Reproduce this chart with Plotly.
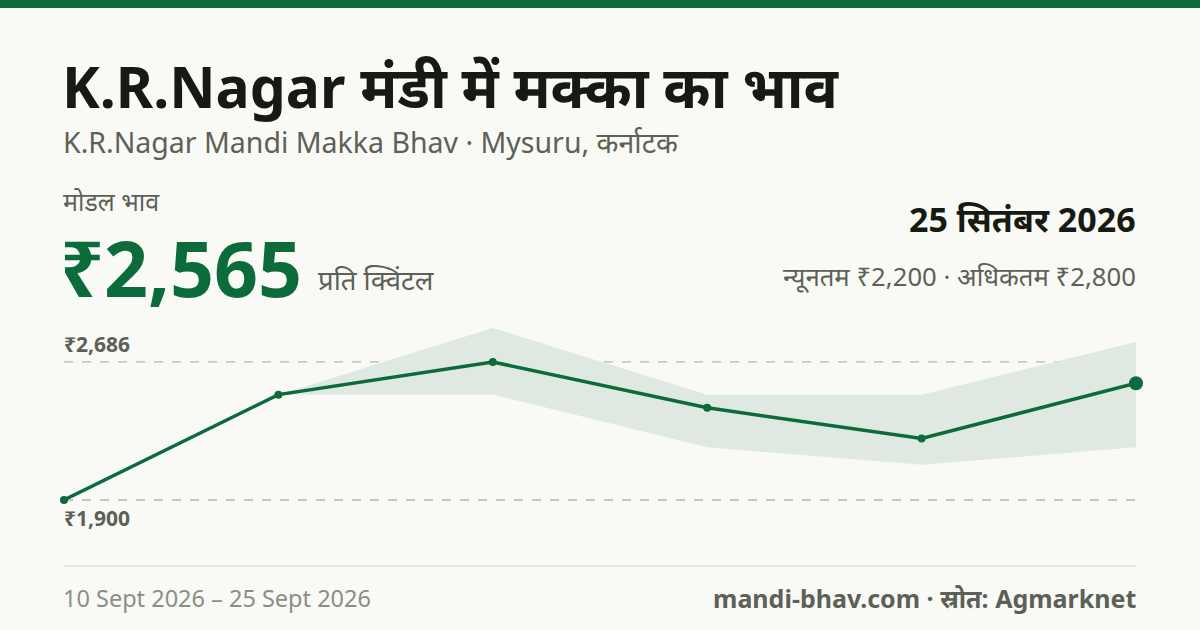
import plotly.graph_objects as go

# --- data ---
dates = ["2026-09-10", "2026-09-13", "2026-09-16", "2026-09-19", "2026-09-22", "2026-09-25"]
modal_price = [1900, 2500, 2686, 2425, 2250, 2565]
min_price = [1900, 2500, 2500, 2200, 2100, 2200]
max_price = [1900, 2500, 2880, 2500, 2500, 2800]

title = "K.R.Nagar मंडी में मक्का का भाव"
subtitle = "K.R.Nagar Mandi Makka Bhav · Mysuru, कर्नाटक"
latest_label = "25 सितंबर 2026"
range_label = "न्यूनतम ₹2,200 · अधिकतम ₹2,800"
period_label = "10 Sept 2026 – 25 Sept 2026"
source_label = "mandi-bhav.com · स्रोत: Agmarknet"

GREEN = "#0b6b3a"
BAND = "#dfe9e1"
BG = "#f9faf6"
DARK = "#151a12"
GREY = "#5c6157"
LIGHT = "#8b8e86"
FONT = "Noto Sans, Noto Sans Devanagari, sans-serif"

W, H = 1200, 630


def px(x):
    return x / W


def py(y):
    return 1 - y / H


fig = go.Figure()

# min-max band
fig.add_trace(go.Scatter(x=dates, y=max_price, mode="lines", line=dict(width=0),
                         hoverinfo="skip", showlegend=False))
fig.add_trace(go.Scatter(x=dates, y=min_price, mode="lines", line=dict(width=0),
                         fill="tonexty", fillcolor=BAND, hoverinfo="skip", showlegend=False))

# dashed reference lines at modal max / min
hi, lo = max(modal_price), min(modal_price)
for v in (hi, lo):
    fig.add_shape(type="line", xref="x", yref="y", x0=dates[0], x1=dates[-1], y0=v, y1=v,
                  line=dict(color="#b4b6ae", width=1.3, dash="dash"), layer="below")

# modal line, last point bigger
sizes = [8] * (len(dates) - 1) + [14]
fig.add_trace(go.Scatter(x=dates, y=modal_price, mode="lines+markers", cliponaxis=False,
                         line=dict(color=GREEN, width=3.5),
                         marker=dict(color=GREEN, size=sizes, opacity=1, line=dict(width=0)),
                         showlegend=False))

fig.add_annotation(x=dates[0], y=hi, xref="x", yref="y", text=f"₹{hi:,}", showarrow=False,
                   xanchor="left", yanchor="bottom", yshift=2, xshift=-2,
                   font=dict(size=21, color=GREY, family=FONT, weight="bold"))
fig.add_annotation(x=dates[0], y=lo, xref="x", yref="y", text=f"₹{lo:,}", showarrow=False,
                   xanchor="left", yanchor="top", yshift=-2, xshift=-2,
                   font=dict(size=21, color=GREY, family=FONT, weight="bold"))

# top bar and bottom separator
fig.add_shape(type="rect", xref="paper", yref="paper", x0=0, x1=1, y0=py(8), y1=1,
              fillcolor=GREEN, line=dict(width=0))
fig.add_shape(type="line", xref="paper", yref="paper", x0=px(64), x1=px(1136),
              y0=py(566), y1=py(566), line=dict(color="#e2e3de", width=1.5))


def text(x, y, s, size, color, anchor="left", bold=False, yanchor="middle"):
    fig.add_annotation(x=px(x), y=py(y), xref="paper", yref="paper", text=s, showarrow=False,
                       xanchor=anchor, yanchor=yanchor,
                       font=dict(size=size, color=color, family=FONT,
                                 weight="bold" if bold else "normal"))


text(60, 86, title, 57, DARK, bold=True)
text(61, 142, subtitle, 28.5, GREY)
text(61, 201, "मोडल भाव", 25, GREY)
text(58, 267, f"₹{modal_price[-1]:,}", 77, GREEN, bold=True)
text(316, 279, "प्रति क्विंटल", 27.5, GREY)
text(1138, 219, latest_label, 34, DARK, anchor="right", bold=True)
text(1138, 276, range_label, 25.7, GREY, anchor="right")
text(61, 598, period_label, 23.5, LIGHT)
text(1138, 598, source_label, 25, GREY, anchor="right", bold=True)

# plot area: pixel rows 310..520 map to prices 1786..2982
fig.update_layout(
    width=W, height=H, margin=dict(l=0, r=0, t=0, b=0),
    paper_bgcolor=BG, plot_bgcolor=BG,
    xaxis=dict(domain=[px(64), px(1136)], range=[dates[0], dates[-1]], visible=False),
    yaxis=dict(domain=[py(520), py(310)], range=[1786, 2982], visible=False),
    showlegend=False,
)

fig.write_html("out.html", config={"displayModeBar": False},
               post_script="document.body.style.margin='0';")
